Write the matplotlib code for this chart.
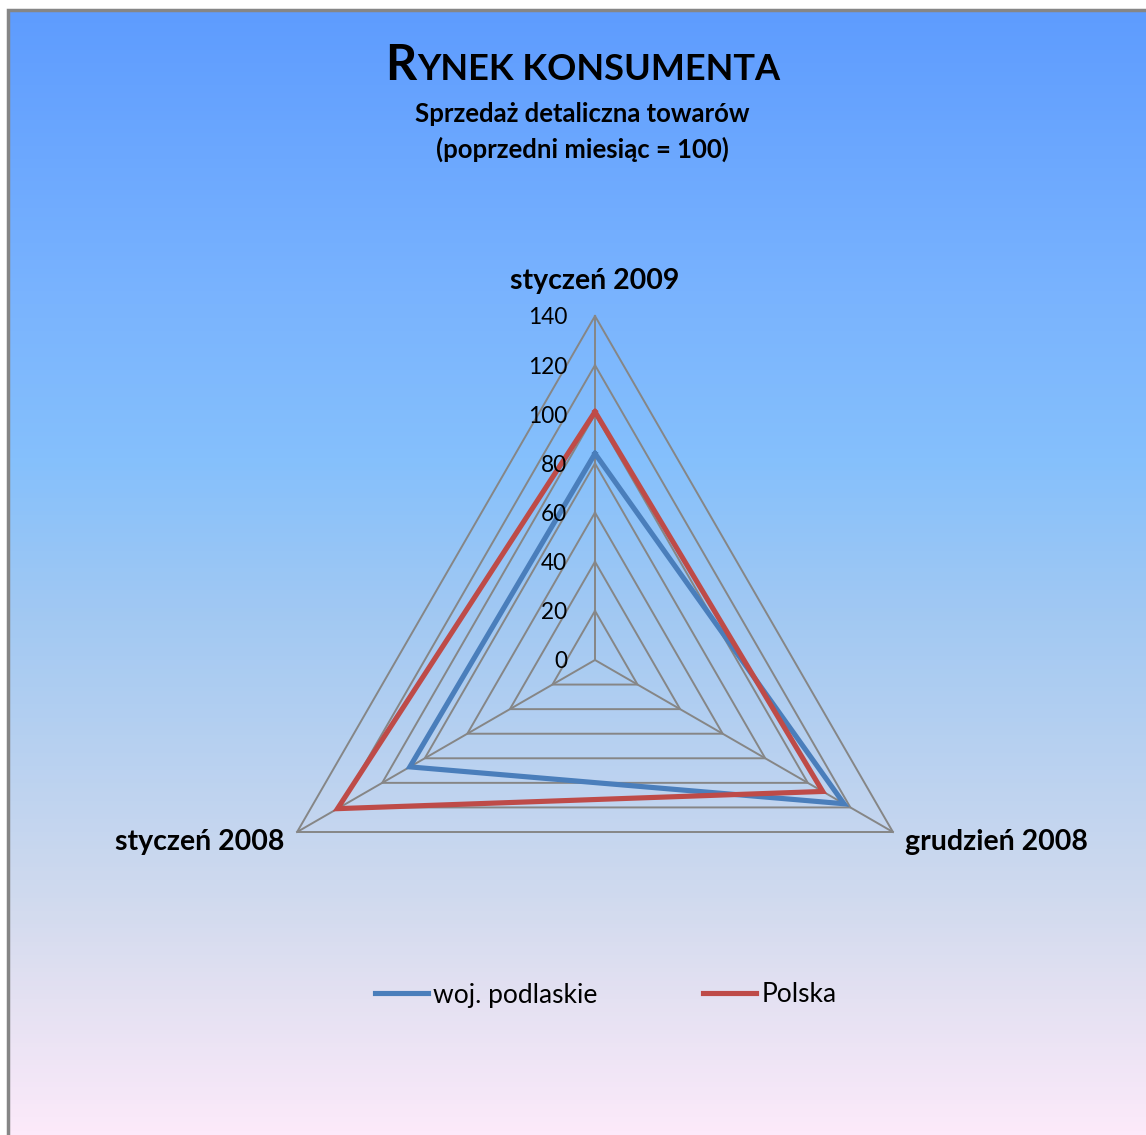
import matplotlib.pyplot as plt
import numpy as np
from matplotlib.colors import LinearSegmentedColormap
from matplotlib.lines import Line2D
from matplotlib.patches import Rectangle

categories = ["styczeń 2009", "grudzień 2008", "styczeń 2008"]
podlaskie = [84, 117, 87]
polska = [101, 107, 121]
series_names = ["woj. podlaskie", "Polska"]
ticks = [0, 20, 40, 60, 80, 100, 120, 140]

BLUE = "#4A7EBB"
RED = "#BE4B48"
GRID = "#868686"
FONT = "Lato"

W, H = 1146, 1135
fig = plt.figure(figsize=(W / 100, H / 100), dpi=100)

# background gradient inside the chart frame
bg = fig.add_axes([8 / W, 0, 1 - 8 / W, 1 - 10 / H])
bg.set_axis_off()
grad = LinearSegmentedColormap.from_list(
    "bg",
    [
        (0.0, (94 / 255, 156 / 255, 255 / 255)),
        (0.26, (122 / 255, 180 / 255, 254 / 255)),
        (0.40, (133 / 255, 192 / 255, 252 / 255)),
        (0.53, (160 / 255, 200 / 255, 243 / 255)),
        (0.79, (208 / 255, 218 / 255, 238 / 255)),
        (0.88, (228 / 255, 225 / 255, 242 / 255)),
        (1.0, (252 / 255, 234 / 255, 250 / 255)),
    ],
)
bg.imshow(np.linspace(0, 1, 256).reshape(-1, 1), cmap=grad, aspect="auto",
          extent=[0, 1, 0, 1])
fig.patches.append(Rectangle((8 / W, -0.1), 1.2, 1.1 - 10 / H,
                             transform=fig.transFigure, fill=False,
                             edgecolor=GRID, linewidth=2.5, zorder=5))

# radar axes in value units, centre at pixel (595, 660), 140 -> 344 px
s = 344 / 140
ax = fig.add_axes([0, 0, 1, 1])
ax.set_axis_off()
ax.set_xlim(-595 / s, (W - 595) / s)
ax.set_ylim(-(H - 660) / s, 660 / s)

n = len(categories)
angles = np.deg2rad(90 - 360 / n * np.arange(n))
ca, sa = np.cos(angles), np.sin(angles)

for t in ticks[1:]:
    ax.plot(np.append(t * ca, t * ca[0]), np.append(t * sa, t * sa[0]),
            color=GRID, lw=1.4, zorder=2)
for c, sn in zip(ca, sa):
    ax.plot([0, ticks[-1] * c], [0, ticks[-1] * sn], color=GRID, lw=1.4, zorder=2)

for t in ticks:
    ax.text(-28 / s, t - 2 / s, str(t), ha="right", va="center", fontsize=16.3,
            family=FONT, zorder=4)

for vals, col in [(podlaskie, BLUE), (polska, RED)]:
    v = np.array(vals, dtype=float)
    ax.plot(np.append(v * ca, v[0] * ca[0]), np.append(v * sa, v[0] * sa[0]),
            color=col, lw=3.7, solid_joinstyle="miter", zorder=3)

top = ticks[-1]
ax.text(0, 379 / s, categories[0], ha="center", va="center", fontsize=20.5,
        fontweight="bold", family=FONT)
ax.text(top * ca[1] + 12 / s, top * sa[1] - 10 / s, categories[1], ha="left",
        va="center", fontsize=20.5, fontweight="bold", family=FONT)
ax.text(top * ca[2] - 13 / s, top * sa[2] - 10 / s, categories[2], ha="right",
        va="center", fontsize=20.5, fontweight="bold", family=FONT)

# title with small caps
fig.canvas.draw()
r = fig.canvas.get_renderer()
t1 = fig.text(0, 1 - 80 / H, "R", fontsize=35, fontweight="bold", family=FONT,
              va="baseline")
t2 = fig.text(0, 1 - 80 / H, "YNEK KONSUMENTA", fontsize=26, fontweight="bold",
              family=FONT, va="baseline")
w1 = t1.get_window_extent(r).width
w2 = t2.get_window_extent(r).width
x0 = 582 - (w1 + w2) / 2
t1.set_x(x0 / W)
t2.set_x((x0 + w1 + 1) / W)

fig.text(582 / W, 1 - 114 / H, "Sprzedaż detaliczna towarów", ha="center",
         va="center", fontsize=18.5, fontweight="bold", family=FONT)
fig.text(582 / W, 1 - 149 / H, "(poprzedni miesiąc = 100)", ha="center",
         va="center", fontsize=18.5, fontweight="bold", family=FONT)

handles = [Line2D([], [], color=BLUE, lw=3.7), Line2D([], [], color=RED, lw=3.7)]
fig.legend(handles, series_names, loc="center", bbox_to_anchor=(606 / W, 1 - 995 / H),
           ncol=2, frameon=False, handlelength=2.0, handletextpad=0.2,
           columnspacing=4.0, prop={"family": FONT, "size": 19})

fig.savefig("out.png", dpi=100)
